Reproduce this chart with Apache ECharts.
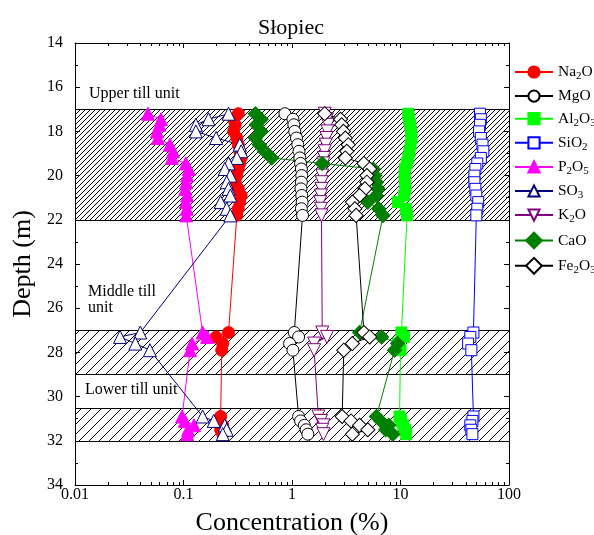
<!DOCTYPE html>
<html><head><meta charset="utf-8">
<script src="https://cdn.jsdelivr.net/npm/echarts@6/dist/echarts.min.js"></script>
<style>html,body{margin:0;padding:0;background:#fff}#c{width:594px;height:535px}</style>
</head><body><div id="c"></div>
<script>
// ---- data ----
const depthsUpper  = [17.2,17.45,17.7,18.0,18.3,18.6,18.9,19.2,19.45,19.7,20.0,20.3,20.6,20.9,21.2,21.5,21.8];
const depthsMiddle = [27.1,27.3,27.6,27.9];
const depthsLower  = [30.9,31.1,31.3,31.5,31.7];
const depths = depthsUpper.concat(depthsMiddle, depthsLower);

const na2o  = [0.32,0.29,0.30,0.29,0.31,0.32,0.33,0.34,0.33,0.32,0.31,0.30,0.32,0.34,0.33,0.32,0.31, 0.26,0.20,0.23,0.225, 0.22,0.21,0.23,0.22,0.23];
const mgo   = [0.86,1.02,1.04,1.06,1.10,1.13,1.16,1.18,1.20,1.22,1.23,1.22,1.21,1.23,1.24,1.22,1.25, 1.05,1.15,0.95,1.02, 1.15,1.2,1.3,1.35,1.4];
const al2o3 = [11.8,12.0,12.3,12.5,12.6,12.4,12.1,11.8,11.4,11.0,10.9,11.0,11.1,10.8,9.5,11.2,11.5, 10.2,10.8,9.5,10.0, 9.8,10.2,10.6,11.0,11.3];
const sio2  = [54,55,54,53,55,57,58,55,51,49,48,48,49,50,52,51,50, 47,44,42,45, 47,46,44,45,46];
const p2o5  = [0.047,0.062,0.060,0.057,0.058,0.075,0.080,0.078,0.105,0.112,0.108,0.106,0.104,0.108,0.105,0.107,0.106, 0.15,0.165,0.12,0.115, 0.097,0.103,0.125,0.11,0.108];
const so3   = [0.26,0.17,0.13,0.13,0.20,0.33,0.34,0.31,0.26,0.24,0.27,0.25,0.26,0.27,0.22,0.25,0.27, 0.040,0.026,0.036,0.049, 0.15,0.19,0.24,0.25,0.23];
const k2o   = [2.0,2.1,2.15,2.12,2.08,2.05,2.0,1.97,1.95,1.93,1.9,1.88,1.87,1.85,1.82,1.85,1.87, 1.9,2.1,1.6,1.6, 1.75,1.85,1.95,1.9,1.95];
const cao   = [0.46,0.52,0.47,0.52,0.46,0.50,0.56,0.65,1.9,5.6,5.8,6.0,6.2,6.0,5.0,6.3,6.9, 4.2,6.7,9.4,8.8, 6.0,6.6,7.8,7.3,8.5];
const fe2o3 = [2.0,2.8,2.87,2.98,3.1,3.3,3.2,3.1,4.6,5.2,4.9,4.9,4.7,4.2,3.6,3.8,3.9, 4.6,5.2,3.6,3.0, 2.9,3.5,4.2,5.0,3.6];

const bandTop    = [17, 27, 30.5];
const bandBottom = [22, 29, 32];
const bandDense  = [1, 0, 0];

const xTicks = [0.01, 0.1, 1, 10, 100];

// ---- helpers ----
const FONT = '"Liberation Serif", "Times New Roman", serif';
function hatch(s) {
  const c = document.createElement('canvas');
  c.width = s; c.height = s;
  const g = c.getContext('2d');
  g.strokeStyle = '#000'; g.lineWidth = 1;
  for (const k of [-s, 0, s]) { g.beginPath(); g.moveTo(k, s); g.lineTo(k + s, 0); g.stroke(); }
  return c;
}
const patDense = hatch(5), patSparse = hatch(10);

const minorVals = [];
for (let i = 0; i < xTicks.length - 1; i++) for (let m = 2; m <= 9; m++) minorVals.push(+(xTicks[i] * m).toPrecision(3));

function pairs(vals) { return vals.map((v, i) => [v, depths[i]]); }

function sub(name) {
  return name.split(/(\d)/).filter(t => t !== '').map(t => /\d/.test(t) ? '{s|' + t + '}' : '{n|' + t + '}').join('');
}

const specs = [
  ['Na2O', na2o, 'circle', 12, 0, '#ff0000', '#ff0000'],
  ['MgO', mgo, 'circle', 12, 0, '#ffffff', '#000000'],
  ['Al2O3', al2o3, 'rect', 11, 0, '#00ff00', '#00ff00'],
  ['SiO2', sio2, 'rect', 11, 0, '#ffffff', '#0000ff'],
  ['P2O5', p2o5, 'triangle', 13, 0, '#ff00ff', '#ff00ff'],
  ['SO3', so3, 'triangle', 13, 0, '#ffffff', '#000080'],
  ['K2O', k2o, 'triangle', 13, 180, '#ffffff', '#800080'],
  ['CaO', cao, 'rect', 10, 45, '#007f00', '#007f00'],
  ['Fe2O3', fe2o3, 'rect', 10, 45, '#ffffff', '#000000']
];

const dataSeries = specs.map(s => ({
  name: s[0], type: 'line', data: pairs(s[1]),
  symbol: s[2], symbolSize: s[3], symbolRotate: s[4],
  showAllSymbol: true, z: 3,
  lineStyle: { color: s[6], width: 1 },
  itemStyle: { color: s[5], borderColor: s[6], borderWidth: 1 },
  emphasis: { disabled: true }
}));

const chart = echarts.init(document.getElementById('c'), null, { renderer: 'canvas' });
chart.setOption({
  animation: false,
  backgroundColor: '#fff',
  title: { text: 'Słopiec', left: 253, top: 12,
    textStyle: { fontFamily: FONT, fontSize: 22, fontWeight: 'normal', color: '#000' } },
  grid: { left: 75, right: 85, top: 43, bottom: 50, outerBoundsMode: 'none', containLabel: false },
  legend: {
    orient: 'vertical', left: 514, top: 64, padding: 0, itemWidth: 38, itemHeight: 14, itemGap: 6.6,
    data: specs.map(s => s[0]),
    formatter: sub,
    textStyle: { rich: {
      n: { fontFamily: FONT, fontSize: 15.5, color: '#000' },
      s: { fontFamily: FONT, fontSize: 11, color: '#000', padding: [8, 0, 0, 0] }
    } }
  },
  xAxis: [{
    type: 'log', logBase: 10, min: 0.01, max: 100,
    name: 'Concentration (%)', nameLocation: 'middle', nameGap: 25,
    nameTextStyle: { fontFamily: FONT, fontSize: 26, color: '#000' },
    axisLine: { lineStyle: { color: '#000', width: 1 } },
    axisTick: { inside: true, length: 5, lineStyle: { color: '#000' } },
    axisLabel: { fontFamily: FONT, fontSize: 16, color: '#000', margin: 2,
      formatter: v => String(+v.toPrecision(3)) },
    splitLine: { show: false }
  }, {
    type: 'log', logBase: 10, min: 0.01, max: 100, position: 'top',
    axisLine: { lineStyle: { color: '#000', width: 1 } },
    axisTick: { inside: true, length: 5, lineStyle: { color: '#000' } },
    axisLabel: { show: false }, splitLine: { show: false }
  }],
  yAxis: [{
    type: 'value', inverse: true, min: 14, max: 34, interval: 2,
    name: 'Depth (m)', nameLocation: 'middle', nameGap: 32,
    nameTextStyle: { fontFamily: FONT, fontSize: 26, color: '#000' },
    axisLine: { lineStyle: { color: '#000', width: 1 } },
    axisTick: { inside: true, length: 5, lineStyle: { color: '#000' } },
    minorTick: { show: true, splitNumber: 2, length: 3, lineStyle: { color: '#000' } },
    axisLabel: { fontFamily: FONT, fontSize: 16, color: '#000', margin: 12 },
    splitLine: { show: false }
  }, {
    type: 'value', inverse: true, min: 14, max: 34, interval: 2, position: 'right',
    axisLine: { lineStyle: { color: '#000', width: 1 } },
    axisTick: { inside: true, length: 5, lineStyle: { color: '#000' } },
    minorTick: { show: true, splitNumber: 2, length: 3, lineStyle: { color: '#000' } },
    axisLabel: { show: false }, splitLine: { show: false }
  }],
  graphic: [
    { type: 'text', left: 89, top: 86, style: { text: 'Upper till unit', font: '16px ' + FONT, fill: '#000' } },
    { type: 'text', left: 88, top: 284, style: { text: 'Middle till', font: '16px ' + FONT, fill: '#000' } },
    { type: 'text', left: 88, top: 300, style: { text: 'unit', font: '16px ' + FONT, fill: '#000' } },
    { type: 'text', left: 85, top: 382, style: { text: 'Lower till unit', font: '16px ' + FONT, fill: '#000' } }
  ],
  series: [{
    type: 'custom', name: 'bands', silent: true, z: 1, clip: false,
    data: bandTop.map((t, i) => [t, bandBottom[i], bandDense[i]]),
    encode: { y: [0, 1] },
    renderItem: (params, api) => {
      const a = api.coord([0.01, api.value(0)]);
      const b = api.coord([100, api.value(1)]);
      const x = Math.round(a[0]) + 0.5, y = Math.round(a[1]) + 0.5;
      const w = Math.round(b[0] - a[0]), h = Math.round(b[1] - a[1]);
      return { type: 'group', children: [
        { type: 'rect', shape: { x, y, width: w, height: h },
          style: { fill: { image: api.value(2) ? patDense : patSparse, repeat: 'repeat' }, stroke: null } },
        { type: 'rect', shape: { x, y, width: w, height: h }, style: { fill: null, stroke: '#000', lineWidth: 1 } }
      ] };
    }
  }, {
    type: 'custom', name: 'minorTicks', silent: true, z: 5, clip: false,
    data: minorVals.map(v => [v, 34]),
    renderItem: (params, api) => {
      const v = api.value(0);
      const pb = api.coord([v, 34]), pt = api.coord([v, 14]);
      const x = Math.round(pb[0]) + 0.5;
      return { type: 'group', children: [
        { type: 'line', shape: { x1: x, y1: pb[1], x2: x, y2: pb[1] - 3 }, style: { stroke: '#000', lineWidth: 1 } },
        { type: 'line', shape: { x1: x, y1: pt[1], x2: x, y2: pt[1] + 3 }, style: { stroke: '#000', lineWidth: 1 } }
      ] };
    }
  }].concat(dataSeries)
});
</script></body></html>
